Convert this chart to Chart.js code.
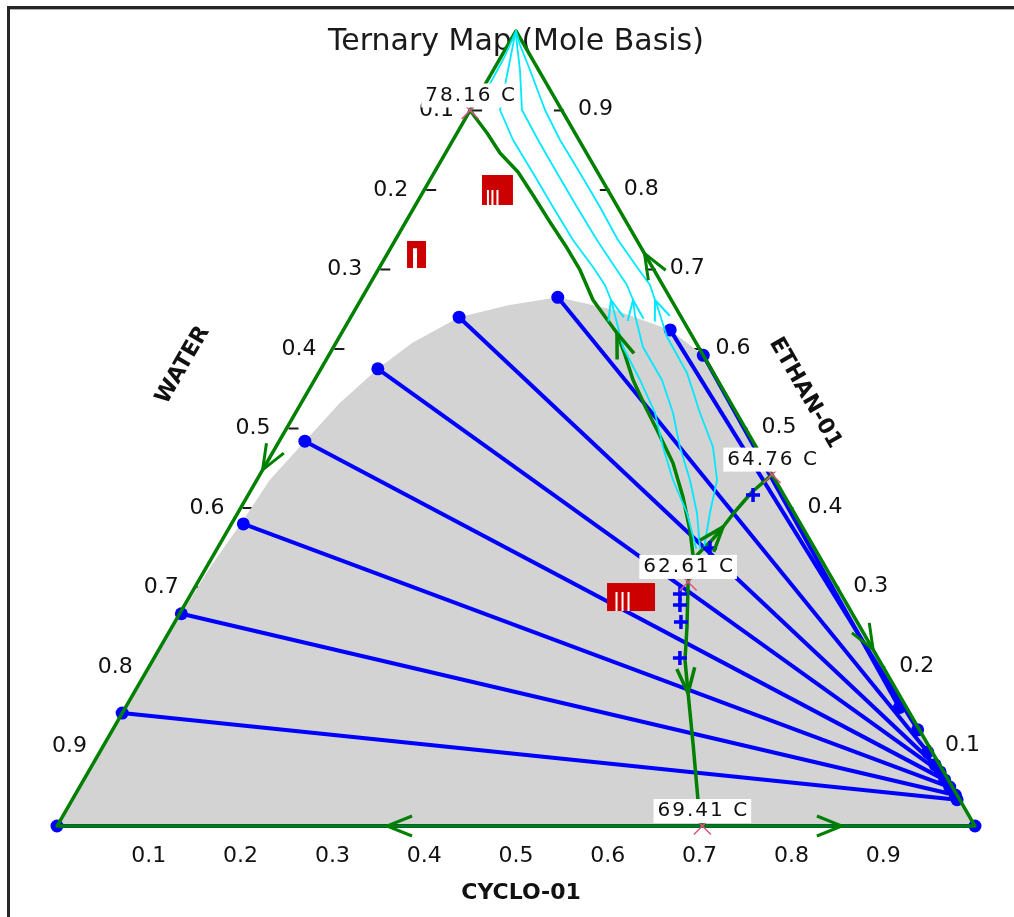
<!DOCTYPE html>
<html>
<head>
<meta charset="utf-8">
<title>Ternary Map (Mole Basis)</title>
<script src="https://cdn.jsdelivr.net/npm/chart.js@4.4.1/dist/chart.umd.min.js"></script>
<style>
    html, body { margin: 0; padding: 0; background: #fff; overflow: hidden; }
    #ternaryChart { display: block; }
</style>
</head>
<body>
<canvas id="ternaryChart" width="1014" height="917"></canvas>
<script>
// Ternary map ETHAN-01 / WATER / CYCLO-01 (mole fractions)
// every composition is given as cyclohexane + ethanol, water is the rest

const tickValues = [0.1, 0.2, 0.3, 0.4, 0.5, 0.6, 0.7, 0.8, 0.9];
const tickLabels = ['0.1', '0.2', '0.3', '0.4', '0.5', '0.6', '0.7', '0.8', '0.9'];

// triangle corners: WATER, CYCLO-01, ETHAN-01
const vertexCyclo = [0, 1, 0, 0];
const vertexEthan = [0, 0, 1, 0];

const azeoLabels = ['78.16 C', '64.76 C', '62.61 C', '69.41 C'];
const azeoCyclo = [0.000, 0.558, 0.534, 0.703];
const azeoEthan = [0.900, 0.442, 0.307, 0.000];

// two-liquid envelope
const binodalCyclo = [0, 0, 0, 0.001, 0.002, 0.004, 0.010, 0.014, 0.028, 0.042, 0.062, 0.083, 0.118, 0.164, 0.213, 0.283, 0.356, 0.408, 0.555, 0.852, 1];
const binodalEthan = [0, 0.070, 0.142, 0.206, 0.267, 0.3245, 0.380, 0.435, 0.484, 0.532, 0.575, 0.6075, 0.640, 0.655, 0.665, 0.649, 0.624, 0.592, 0.444, 0.146, 0];

// tie lines, water-rich end and organic end
const tieAqCyclo = [0.000, 0.000, 0.002, 0.013, 0.028, 0.062, 0.118, 0.213, 0.356, 0.408];
const tieAqEthan = [0.000, 0.142, 0.267, 0.380, 0.484, 0.575, 0.640, 0.665, 0.624, 0.592];
const tieOrgCyclo = [1.000, 0.964, 0.959, 0.948, 0.938, 0.928, 0.918, 0.902, 0.877, 0.843];
const tieOrgEthan = [0.000, 0.033, 0.039, 0.049, 0.058, 0.068, 0.077, 0.093, 0.121, 0.149];

// distillation boundaries, starting at the ternary azeotrope
const bndWaterCyclo = [0.534, 0.5224, 0.5033, 0.475, 0.4427, 0.4046, 0.3787, 0.347, 0.3225, 0.2999, 0.2785, 0.2531, 0.22, 0.1921, 0.1571, 0.1216, 0.0909, 0.0593, 0.0326, 0.000];
const bndWaterEthan = [0.307, 0.3409, 0.3723, 0.4138, 0.4566, 0.4981, 0.5258, 0.561, 0.5925, 0.6201, 0.639, 0.6616, 0.6994, 0.727, 0.7597, 0.7937, 0.8226, 0.8465, 0.8717, 0.900];
const bndCycloCyclo = [0.534, 0.5268, 0.5336, 0.5374, 0.5402, 0.547, 0.558];
const bndCycloEthan = [0.307, 0.3409, 0.3597, 0.3761, 0.3925, 0.4201, 0.442];
const bndBottomCyclo = [0.534, 0.5611, 0.5797, 0.6038, 0.6406, 0.6819, 0.703];
const bndBottomEthan = [0.307, 0.2503, 0.2088, 0.1673, 0.1044, 0.0327, 0];

// residue curves
const res1Cyclo = [0.5213, 0.4894, 0.4534, 0.4217, 0.3917, 0.3546, 0.3153, 0.2864, 0.2727, 0.2566, 0.2323, 0.1935, 0.151, 0.1078, 0.0653, 0.0323, 0.0179, 0.0055, 0];
const res1Ethan = [0.3497, 0.3937, 0.4352, 0.4767, 0.5195, 0.561, 0.6025, 0.6428, 0.6616, 0.6805, 0.7031, 0.7371, 0.7786, 0.8214, 0.8629, 0.9006, 0.9447, 0.9824, 1];
const res2Cyclo = [0.5256, 0.5003, 0.4719, 0.4402, 0.4113, 0.3785, 0.337, 0.3082, 0.2967, 0.2806, 0.2562, 0.2196, 0.1771, 0.134, 0.0926, 0.0562, 0.0289, 0.0099, 0];
const res2Ethan = [0.3497, 0.3937, 0.4352, 0.4767, 0.5195, 0.561, 0.6025, 0.6428, 0.6616, 0.6805, 0.7031, 0.7371, 0.7786, 0.8214, 0.8629, 0.9006, 0.9509, 0.9824, 1];
const res3Cyclo = [0.53, 0.5144, 0.5014, 0.4762, 0.4407, 0.4014, 0.357, 0.3259, 0.3206, 0.3057, 0.2802, 0.2425, 0.2022, 0.159, 0.1165, 0.0813, 0.0398, 0.0132, 0];
const res3Ethan = [0.3497, 0.3937, 0.4352, 0.4767, 0.5195, 0.5698, 0.6151, 0.6553, 0.6616, 0.6805, 0.7031, 0.7371, 0.7786, 0.8214, 0.8629, 0.9006, 0.9509, 0.9824, 1];
const res4Cyclo = [0.0045, 0.0047, 0.0037, 0];
const res4Ethan = [0.9082, 0.9384, 0.9686, 1];

// blue cross markers
const crossCyclo = [0.5327, 0.5396, 0.5514, 0.5729, 0.55, 0.5365];
const crossEthan = [0.2918, 0.278, 0.2566, 0.2113, 0.4164, 0.3497];

// region markers
const regionCyclo = [0.0322, 0.0798, 0.4813];
const regionEthan = [0.7189, 0.800, 0.288];

// arrows on the triangle sides: tip and the corner it points to
const edgeArrowCyclo = [0.3595, 0.855, 0.000, 0.280, 0.778];
const edgeArrowEthan = [0.000, 0.000, 0.448, 0.720, 0.222];
const edgeArrowToward = [0, 1, 0, 2, 1];

const GREEN = '#008000';
const BLUE = '#0000ff';
const CYAN = '#00e8ff';
const PINK = '#e0508c';
const FONT = '"DejaVu Sans", Verdana, sans-serif';
const H = Math.sqrt(3) / 2;

function toXY(c, e) {
    return { x: c + e / 2, y: e * H };
}

function series(cs, es) {
    return cs.map((c, i) => toXY(c, es[i]));
}

function lineSet(label, data, color, width, order) {
    return {
        label, data, showLine: true, borderColor: color, borderWidth: width,
        pointRadius: 0, borderJoinStyle: 'round', borderCapStyle: 'round', order
    };
}

const curves = [
    { c: bndWaterCyclo, e: bndWaterEthan, color: GREEN, width: 3.5, arrow: 9, order: 4 },
    { c: bndCycloCyclo, e: bndCycloEthan, color: GREEN, width: 3.5, arrow: 3, order: 4 },
    { c: bndBottomCyclo, e: bndBottomEthan, color: GREEN, width: 3.5, arrow: 3, order: 4 },
    { c: res1Cyclo, e: res1Ethan, color: CYAN, width: 1.8, arrow: 8, order: 3 },
    { c: res2Cyclo, e: res2Ethan, color: CYAN, width: 1.8, arrow: 8, order: 3 },
    { c: res3Cyclo, e: res3Ethan, color: CYAN, width: 1.8, arrow: 8, order: 3 },
    { c: res4Cyclo, e: res4Ethan, color: CYAN, width: 1.8, arrow: -1, order: 3 }
];

const datasets = [];

datasets.push({
    label: 'two liquids',
    data: series(binodalCyclo, binodalEthan),
    showLine: true, borderWidth: 0, pointRadius: 0,
    backgroundColor: '#d3d3d3', fill: 'origin', order: 7
});

tieAqCyclo.forEach((c, i) => {
    datasets.push({
        label: 'tie ' + (i + 1),
        data: [toXY(c, tieAqEthan[i]), toXY(tieOrgCyclo[i], tieOrgEthan[i])],
        showLine: true, borderColor: BLUE, borderWidth: 4,
        pointRadius: 6.5, pointBackgroundColor: BLUE, pointBorderWidth: 0, order: 6
    });
});

datasets.push(lineSet('sides', series(vertexCyclo, vertexEthan), GREEN, 3.5, 5));

curves.forEach((cv, i) => {
    datasets.push(lineSet('curve ' + i, series(cv.c, cv.e), cv.color, cv.width, cv.order));
});

datasets.push({
    label: 'cross', data: series(crossCyclo, crossEthan), showLine: false,
    pointStyle: 'cross', pointRadius: 7, pointBorderColor: BLUE, pointBorderWidth: 3.5, order: 2
});

datasets.push({
    label: 'azeotropes', data: series(azeoCyclo, azeoEthan), showLine: false,
    pointStyle: 'crossRot', pointRadius: 12, pointBorderColor: PINK, pointBorderWidth: 1.5, order: 1
});

function pix(chart, c, e) {
    const p = toXY(c, e);
    return { x: chart.scales.x.getPixelForValue(p.x), y: chart.scales.y.getPixelForValue(p.y) };
}

function drawArrow(ctx, tip, from, color, len, half, width) {
    const dx = tip.x - from.x, dy = tip.y - from.y;
    const d = Math.hypot(dx, dy) || 1;
    const ux = dx / d, uy = dy / d;
    const bx = tip.x - ux * len, by = tip.y - uy * len;
    ctx.save();
    ctx.strokeStyle = color;
    ctx.lineWidth = width;
    ctx.lineJoin = 'miter';
    ctx.beginPath();
    ctx.moveTo(bx - uy * half, by + ux * half);
    ctx.lineTo(tip.x, tip.y);
    ctx.lineTo(bx + uy * half, by - ux * half);
    ctx.stroke();
    ctx.restore();
}

// marker box sizes and the white bars inside them
const regionStyle = [
    { w: 19, h: 27, top: 0.27, bars: [8], bw: 4 },
    { w: 31, h: 30, top: 0.5, bars: [6, 10.5, 15.5], bw: 2 },
    { w: 48, h: 28, top: 0.32, bars: [9.5, 15.5, 21.5], bw: 2 }
];

const decorPlugin = {
    id: 'ternaryDecor',
    beforeDraw(chart) {
        const ctx = chart.ctx;
        ctx.save();
        ctx.fillStyle = '#ffffff';
        ctx.fillRect(0, 0, chart.width, chart.height);
        ctx.fillStyle = '#262626';
        ctx.fillRect(7, 6, chart.width - 7, 3);
        ctx.fillRect(7, 6, 3, chart.height - 6);
        ctx.fillStyle = '#b0b0b0';
        ctx.fillRect(10, 9, chart.width - 10, 1);
        ctx.restore();
    },
    beforeDatasetsDraw(chart) {
        const ctx = chart.ctx;
        ctx.save();
        ctx.fillStyle = '#1a1a1a';
        ctx.font = '30px ' + FONT;
        ctx.textAlign = 'center';
        ctx.textBaseline = 'alphabetic';
        ctx.fillText('Ternary Map (Mole Basis)', 516, 50);

        ctx.strokeStyle = '#1a1a1a';
        ctx.lineWidth = 2;
        tickValues.forEach(v => {
            const l = pix(chart, 0, 1 - v);
            ctx.beginPath();
            ctx.moveTo(l.x + 2, l.y);
            ctx.lineTo(l.x + 12, l.y);
            ctx.stroke();
            const r = pix(chart, 1 - v, v);
            ctx.beginPath();
            ctx.moveTo(r.x - 8, r.y);
            ctx.lineTo(r.x + 2, r.y);
            ctx.stroke();
        });
        ctx.restore();
    },
    afterDatasetsDraw(chart) {
        const ctx = chart.ctx;

        // direction arrows
        const corners = [[0, 0], [1, 0], [0, 1]];
        edgeArrowCyclo.forEach((c, i) => {
            const tip = pix(chart, c, edgeArrowEthan[i]);
            const to = corners[edgeArrowToward[i]];
            const end = pix(chart, to[0], to[1]);
            const back = { x: 2 * tip.x - end.x, y: 2 * tip.y - end.y };
            drawArrow(ctx, tip, back, GREEN, 25, 10, 3);
        });
        curves.forEach(cv => {
            if (cv.arrow < 1) return;
            const tip = pix(chart, cv.c[cv.arrow], cv.e[cv.arrow]);
            const from = pix(chart, cv.c[cv.arrow - 1], cv.e[cv.arrow - 1]);
            if (cv.color === GREEN) drawArrow(ctx, tip, from, GREEN, 25, 9, 3.5);
            else drawArrow(ctx, tip, from, cv.color, 20, 8, 2);
        });

        // region markers
        regionCyclo.forEach((c, i) => {
            const p = pix(chart, c, regionEthan[i]);
            const s = regionStyle[i];
            const x0 = p.x - s.w / 2, y0 = p.y - s.h / 2;
            ctx.fillStyle = '#cc0000';
            ctx.fillRect(x0, y0, s.w, s.h);
            ctx.fillStyle = '#ffffff';
            s.bars.forEach(b => {
                ctx.fillRect(x0 + b - s.bw / 2, y0 + s.h * s.top, s.bw, s.h * (1 - s.top));
            });
        });

        ctx.save();
        ctx.fillStyle = '#111';
        ctx.font = '22px ' + FONT;
        ctx.textBaseline = 'middle';
        tickValues.forEach((v, i) => {
            const l = pix(chart, 0, 1 - v);
            ctx.textAlign = 'right';
            ctx.fillText(tickLabels[i], l.x - 16, l.y);
            const r = pix(chart, 1 - v, v);
            ctx.textAlign = 'left';
            ctx.fillText(tickLabels[i], r.x + 16, r.y - 1);
            const b = pix(chart, v, 0);
            ctx.textAlign = 'center';
            ctx.fillText(tickLabels[i], b.x, b.y + 30);
        });

        // component names
        ctx.font = 'bold 22px ' + FONT;
        ctx.textAlign = 'center';
        ctx.fillText('CYCLO-01', 521, 893);
        ctx.save();
        ctx.translate(183, 365);
        ctx.rotate(-Math.PI / 3);
        ctx.fillText('WATER', 0, 0);
        ctx.restore();
        ctx.save();
        ctx.translate(805, 393);
        ctx.rotate(Math.PI / 3);
        ctx.fillText('ETHAN-01', 0, 0);
        ctx.restore();

        // azeotrope temperatures
        ctx.font = '20px ' + FONT;
        ctx.letterSpacing = '2px';
        azeoLabels.forEach((t, i) => {
            const p = pix(chart, azeoCyclo[i], azeoEthan[i]);
            const w = ctx.measureText(t).width + 6;
            const top = p.y - 3 - 24;
            ctx.fillStyle = '#ffffff';
            ctx.fillRect(p.x - w / 2, top, w, 24);
            ctx.fillStyle = '#111';
            ctx.textAlign = 'center';
            ctx.fillText(t, p.x + 1, top + 12);
        });
        ctx.letterSpacing = '0px';
        ctx.restore();
    }
};

new Chart(document.getElementById('ternaryChart'), {
    type: 'scatter',
    data: { datasets },
    options: {
        responsive: false,
        animation: false,
        devicePixelRatio: 1,
        events: [],
        layout: { padding: 0, autoPadding: false },
        scales: {
            x: { type: 'linear', display: false, min: -57 / 918, max: 957 / 918 },
            y: { type: 'linear', display: false, min: -91 / 918, max: 826 / 918 }
        },
        plugins: {
            legend: { display: false },
            tooltip: { enabled: false }
        }
    },
    plugins: [decorPlugin]
});
</script>
</body>
</html>
